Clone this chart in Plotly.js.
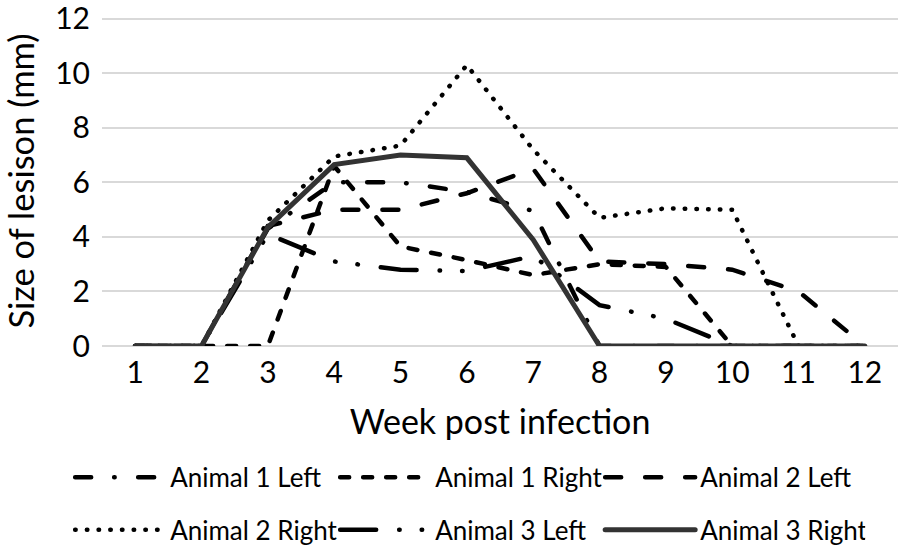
<!DOCTYPE html>
<html><head><meta charset="utf-8">
<script src="https://cdn.plot.ly/plotly-3.0.1.min.js"></script>
<style>
html,body{margin:0;padding:0;background:#fff;}
#chart{width:898px;height:549px;}
path.js-line{stroke-linecap:round;}
</style></head>
<body><div id="chart"></div>
<script>
// Week post infection (categories)
const weeks = [1,2,3,4,5,6,7,8,9,10,11,12];
// Size of lesion (mm) per series
const animal1Left  = [0,0,4.3,6.0,6.0,5.65,4.95,0,0,0,0,0];
const animal1Right = [0,0,0,6.6,3.65,3.15,2.6,3.0,2.9,0,0,0];
const animal2Left  = [0,0,4.4,5.0,5.0,5.6,6.5,3.1,3.0,2.8,2.0,0];
const animal2Right = [0,0,4.6,6.95,7.35,10.3,7.2,4.7,5.05,5.0,0,0];
const animal3Left  = [0,0,4.1,3.1,2.8,2.75,3.3,1.5,1.0,0,0,0];
const animal3Right = [0,0,4.35,6.65,7.0,6.9,3.9,0,0,0,0,0];
const seriesNames = ['Animal 1 Left','Animal 1 Right','Animal 2 Left','Animal 2 Right','Animal 3 Left','Animal 3 Right'];
const yTicks = [0,2,4,6,8,10,12];

const seriesData = [animal1Left, animal1Right, animal2Left, animal2Right, animal3Left, animal3Right];
const styles = [
  {color:'#000', width:4.5, dash:'16px,23px,0.5px,23.5px', legend:'legend'},
  {color:'#000', width:4.5, dash:'9px,14px', legend:'legend'},
  {color:'#000', width:4.5, dash:'16px,24px', legend:'legend'},
  {color:'#000', width:4.5, dash:'0.5px,11.2px', legend:'legend2'},
  {color:'#000', width:4.5, dash:'36px,23px,0.5px,22px,0.5px,23px', legend:'legend2'},
  {color:'#333', width:5, dash:'solid', legend:'legend2'}
];
const FONT = 'Lato, "Liberation Sans", sans-serif';
const traces = seriesData.map((ys, i) => ({
  type:'scatter', mode:'lines', x:weeks, y:ys, name:seriesNames[i],
  line:{color:styles[i].color, width:styles[i].width, dash:styles[i].dash},
  cliponaxis:false, legend:styles[i].legend
}));
const legendCommon = {
  orientation:'h', xanchor:'left', yanchor:'top',
  font:{family:FONT, size:26, color:'#000'},
  entrywidth:160, entrywidthmode:'pixels', itemwidth:90,
  bgcolor:'rgba(0,0,0,0)', traceorder:'normal'
};
const layout = {
  width:898, height:549,
  margin:{l:102, r:0, t:16, b:203, autoexpand:false},
  paper_bgcolor:'#fff', plot_bgcolor:'#fff',
  font:{family:FONT, color:'#000'},
  showlegend:true,
  xaxis:{
    range:[0.5,12.5], tickmode:'array', tickvals:weeks, ticktext:weeks.map(String),
    showgrid:false, zeroline:false, showline:false, ticks:'',
    ticklabelstandoff:6, ticklabeloverflow:'allow',
    tickfont:{family:FONT, size:30, color:'#000'},
    title:{text:'Week post infection', font:{family:FONT, size:34, color:'#000'}, standoff:22}
  },
  yaxis:{
    range:[0,12.1], tickmode:'array', tickvals:yTicks, ticktext:yTicks.map(String),
    showgrid:true, gridcolor:'#d9d9d9', gridwidth:2,
    zeroline:true, zerolinecolor:'#d9d9d9', zerolinewidth:2,
    showline:false, ticks:'', ticklabelstandoff:11, ticklabeloverflow:'allow',
    tickfont:{family:FONT, size:30, color:'#000'},
    title:{text:'Size of lesison (mm)', font:{family:FONT, size:34.5, color:'#000'}, standoff:10}
  },
  legend:Object.assign({x:-0.04, y:-0.33*327/330}, legendCommon),
  legend2:Object.assign({x:-0.04, y:-0.49*327/330}, legendCommon)
};
Plotly.newPlot('chart', traces, layout, {displayModeBar:false, staticPlot:true});
</script>
</body></html>
